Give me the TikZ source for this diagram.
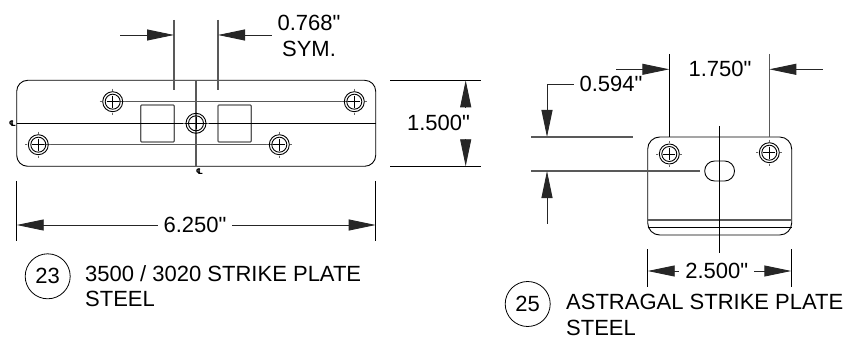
\documentclass[tikz,border=0pt]{standalone}
\usepackage{fontspec}
\newfontfamily\platefont{Liberation Sans}
\newfontfamily\clfont{DejaVu Sans Bold}
\usetikzlibrary{arrows.meta}

\begin{document}
\begin{tikzpicture}[x=1pt,y=-1pt,
  thin line/.style={line width=0.9pt,black},
  gray line/.style={line width=1.3pt,black!65},
  dim/.style={line width=0.9pt,black!85,{Triangle[length=27pt,width=11pt]}-},
  dim text/.style={font=\platefont\fontsize{22}{22}\selectfont,inner sep=0pt,outer xsep=6pt,anchor=center},
  note/.style={font=\platefont\fontsize{22}{25}\selectfont,inner sep=0pt,anchor=base west},
  callout/.style={circle,draw,line width=0.8pt,minimum size=45pt,inner sep=0pt,font=\platefont\fontsize{22}{22}\selectfont},
  cl/.style={font=\clfont\fontsize{8}{8}\selectfont,inner sep=0pt}]
\useasboundingbox (0,0) rectangle (849,342);

% strike plate 23
\draw[thin line,rounded corners=11pt] (16.7,80.3) rectangle (375.7,166.3);
\draw[gray line,rounded corners=1pt] (140.7,105) rectangle (174.3,142);
\draw[gray line,rounded corners=1pt] (218,105) rectangle (251.3,142);
\draw[gray line] (112.7,101.7) -- (354.3,101.7);
\draw[gray line] (38.3,144.7) -- (279.3,144.7);
\draw[thin line] (16.7,123.3) -- (375.7,123.3);
\draw[gray line] (196,80.3) -- (196,166.3);
\node[cl] (clh) at (12.5,123.3) {℄};
\node[cl] (clv) at (199.5,171.5) {℄};

% strike plate 25
\draw[thin line,rounded corners=12pt] (647.7,137) -- (791.7,137) -- (791.7,235) -- (647.7,235) -- cycle;
\draw[gray line] (647.7,220) -- (791.7,220);
\draw[thin line] (647.7,227.3) -- (791.7,227.3);
\draw[thin line,rounded corners=9.9pt] (704.7,161) rectangle (734.5,181);
\draw[thin line] (719.5,126) -- (719.5,252.7);

% holes
\foreach \hx/\hy in {112.7/101.7,354.3/101.7,38.3/144.7,279.3/144.7,196/123.3,669.3/154,769.3/152.7}{
  \draw[thin line] (\hx,\hy) circle (10pt);
  \draw[thin line] (\hx,\hy) circle (7.5pt);
  \draw[line width=0.7pt] (\hx-6,\hy) -- (\hx+6,\hy) (\hx,\hy-6) -- (\hx,\hy+6);
  \draw[line width=0.5pt,black!60] (\hx-13,\hy) -- (\hx-11,\hy) (\hx+11,\hy) -- (\hx+13,\hy)
    (\hx,\hy-13) -- (\hx,\hy-11) (\hx,\hy+11) -- (\hx,\hy+13);
}

% dimensions of 23
\draw[gray line] (174,20) -- (174,90);
\draw[gray line] (218,20) -- (218,90);
\draw[dim] (174,35) -- (120,35);
\draw[dim] (218,35) -- (272,35);
\node[dim text] (widthtop) at (309,23) {0.768"};
\node[dim text] (widthsym) at (309,49) {SYM.};
\draw[thin line] (390,80.3) -- (481,80.3);
\draw[thin line] (390,166.3) -- (481,166.3);
\draw[dim] (465.7,80.3) -- (465.7,108);
\draw[dim] (465.7,166.3) -- (465.7,139);
\node[dim text] (height) at (438.5,123.3) {1.500"};
\draw[thin line] (16.7,181) -- (16.7,240.7);
\draw[thin line] (375.7,181) -- (375.7,240.7);
\node[dim text] (length) at (195,225) {6.250"};
\draw[dim] (16.7,225) -- (length.west);
\draw[dim] (375.7,225) -- (length.east);

% dimensions of 25
\draw[thin line] (669.3,54) -- (669.3,137);
\draw[gray line] (769.3,54) -- (769.3,137);
\draw[dim] (669.3,69.3) -- (616,69.3);
\draw[dim] (769.3,69.3) -- (823,69.3);
\node[dim text] (spacing) at (720,69) {1.750"};
\node[dim text] (offset) at (611,84) {0.594"};
\draw[dim] (547,137) -- (547,84) -- (574,84);
\draw[gray line] (531,137) -- (633,137);
\draw[gray line] (531,171) -- (700,171);
\draw[dim] (547,171) -- (547,224);
\draw[thin line] (647.7,249) -- (647.7,286.7);
\draw[thin line] (791.3,249) -- (791.3,286.7);
\node[dim text] (width) at (716.7,271) {2.500"};
\draw[dim] (647.7,271) -- (679,271);
\draw[dim] (791.3,271) -- (754,271);

% callouts
\node[callout] (item23) at (47.7,276.3) {23};
\node[note] (name23) at (85,281.7) {3500 / 3020 STRIKE PLATE};
\node[note] (mat23) at (85,306.7) {STEEL};
\node[callout] (item25) at (527.7,304) {25};
\node[note] (name25) at (566,309) {ASTRAGAL STRIKE PLATE};
\node[note] (mat25) at (566,335) {STEEL};
\end{tikzpicture}
\end{document}
